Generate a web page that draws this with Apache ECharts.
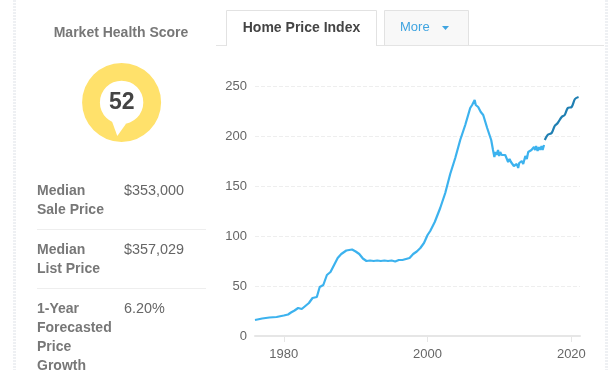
<!DOCTYPE html>
<html><head><meta charset="utf-8">
<style>html,body{margin:0;padding:0;background:#fff}#c{width:614px;height:370px}</style>
<script src="https://cdn.jsdelivr.net/npm/echarts@6/dist/echarts.min.js"></script>
</head><body><div id="c"></div>
<script>
var histYears=[1976,1977,1978,1979,1980,1980.6,1981,1981.5,1982,1982.5,1983,1983.5,1984,1984.6,1985,1985.5,1986,1986.5,1987,1987.5,1988,1988.7,1989.5,1990,1990.5,1991,1991.5,1992,1992.5,1993,1993.5,1994,1994.5,1995,1995.5,1996,1996.5,1997,1997.5,1998,1998.5,1999,1999.5,2000,2000.37,2001,2001.76,2002.46,2003.15,2003.85,2004.54,2005.24,2005.93,2006.2,2006.4,2006.55,2006.7,2007.04,2007.4,2007.74,2008.29,2008.85,2009.1,2009.29,2009.45,2009.6,2009.8,2009.95,2010.1,2010.3,2010.5,2010.8,2011.2,2011.4,2011.6,2011.76,2012,2012.2,2012.4,2012.6,2012.75,2012.9,2013.1,2013.3,2013.6,2013.8,2014,2014.26,2014.45,2014.6,2014.8,2014.96,2015.1,2015.3,2015.5,2015.65,2015.85,2016,2016.2];
var histValues=[16,17.5,18.5,19,20.5,21.5,23.5,25.5,28,27,30,33,38,39,49,51,61,64,71,78,82,85.5,86.5,84.5,82,77.5,75,75.5,75,75.5,75,75.5,75,75.5,74.5,76,76,77,78,82,84.5,88,93,101,105,114,128,143,162,178,196,211,228,231,233,236,231,229,224,221,208,196,186,179,184,181,186,180,184,181,182,181,174,177,174,175,170,169,172,168,173,171,175,172,180,177,184,183,186,184,189,186,190,185,189,186,190,186,191];
var forecastYears=[2016.3,2016.7,2017.26,2017.68,2018.1,2018.65,2019.07,2019.5,2020.04,2020.5,2021];
var forecastValues=[196,201,203,210,213,219,221,228,229,237,239];
var yTicks=[0,50,100,150,200,250];
var xTicks=[1980,2000,2020];
var scoreValue=52;
var titleText='Market Health Score';
var tabLabels=['Home Price Index','More'];
var rowLabels=[['Median','Sale Price'],['Median','List Price'],['1-Year','Forecasted','Price','Growth']];
var rowValues=['$353,000','$357,029','6.20%'];

function zip(a,b){return a.map(function(x,i){return [x,b[i]];});}
var font='Arial, "Liberation Sans", sans-serif';
var g=[];
function T(x,y,s,o){o=o||{};g.push({type:'text',x:x,y:y,z:20,silent:true,style:{text:s,fill:o.c||'#666',font:(o.b?'bold ':'')+(o.s||14)+'px '+font,textAlign:o.a||'left',textVerticalAlign:'middle'}});}
// page edges
[14.5,606.5].forEach(function(x){
  g.push({type:'line',z:2,silent:true,shape:{x1:x,y1:0,x2:x,y2:370},style:{stroke:'#eef0f3',lineWidth:3,lineDash:[2,1]}});
});
// tab baseline
g.push({type:'line',z:3,silent:true,shape:{x1:216,y1:45.5,x2:226,y2:45.5},style:{stroke:'#e4e4e4',lineWidth:1}});
g.push({type:'line',z:3,silent:true,shape:{x1:376,y1:45.5,x2:604,y2:45.5},style:{stroke:'#e4e4e4',lineWidth:1}});
// tabs
g.push({type:'polyline',z:6,silent:true,shape:{points:[[226.5,46],[226.5,10.5],[376.5,10.5],[376.5,46]]},style:{stroke:'#e2e2e2',lineWidth:1,fill:'#fff'}});
g.push({type:'polyline',z:6,silent:true,shape:{points:[[384.5,45],[384.5,10.5],[468.5,10.5],[468.5,45]]},style:{stroke:'#e2e2e2',lineWidth:1,fill:'#f8f8f8'}});
T(301.5,28,tabLabels[0],{b:1,s:14,c:'#444',a:'center'});
T(400,27.5,tabLabels[1],{s:13,c:'#3fa4e0'});
g.push({type:'polygon',z:20,silent:true,shape:{points:[[442,26],[449,26],[445.5,30]]},style:{fill:'#3fa4e0'}});
// score
T(121,33,titleText,{b:1,s:14,c:'#777',a:'center'});
g.push({type:'polygon',z:10,silent:true,shape:{points:[[111.5,120],[117.3,136],[126.2,123.5]]},style:{fill:'#fff'}});
T(121.7,102.5,String(scoreValue),{b:1,s:23,c:'#444',a:'center'});
// table
var rowY=[191,250,309];
rowLabels.forEach(function(lines,i){
  lines.forEach(function(l,j){T(37,rowY[i]+j*19,l,{b:1,s:14,c:'#777'});});
  T(124,rowY[i],rowValues[i],{s:14.4,c:'#666'});
});
[229.5,288.5].forEach(function(y){g.push({type:'line',z:3,silent:true,shape:{x1:37,y1:y,x2:206,y2:y},style:{stroke:'#eeeeee',lineWidth:1}});});

var chart=echarts.init(document.getElementById('c'),null,{renderer:'canvas'});
chart.setOption({
  animation:false,
  backgroundColor:'#fff',
  grid:{left:255,right:34,top:86,bottom:34},
  xAxis:{type:'value',min:1976,max:2021.2,
    axisLine:{show:true,lineStyle:{color:'#e6e6e6',width:2}},
    axisTick:{show:true,length:6,lineStyle:{color:'#e6e6e6'},customValues:xTicks},
    axisLabel:{color:'#666',fontSize:13,fontFamily:font,margin:12,customValues:xTicks,formatter:function(v){return String(v);}},
    splitLine:{show:false}},
  yAxis:{type:'value',min:0,max:250,interval:50,
    axisLine:{show:false},axisTick:{show:false},
    axisLabel:{color:'#666',fontSize:13,fontFamily:font,margin:8},
    splitLine:{show:true,lineStyle:{color:'#eeeeee',type:'dashed',width:1}}},
  series:[
    {type:'line',data:zip(histYears,histValues),showSymbol:false,silent:true,lineStyle:{color:'#3cb2ee',width:2.2},z:4},
    {type:'line',data:zip(forecastYears,forecastValues),showSymbol:false,silent:true,smooth:0.3,lineStyle:{color:'#1f7fb2',width:2.2},z:4},
    {type:'pie',silent:true,center:[121.6,102.4],radius:[21.7,39.5],label:{show:false},labelLine:{show:false},
      itemStyle:{color:'#ffe16b'},data:[{value:scoreValue,name:'score'}],z:6}
  ],
  graphic:g
});
</script></body></html>
